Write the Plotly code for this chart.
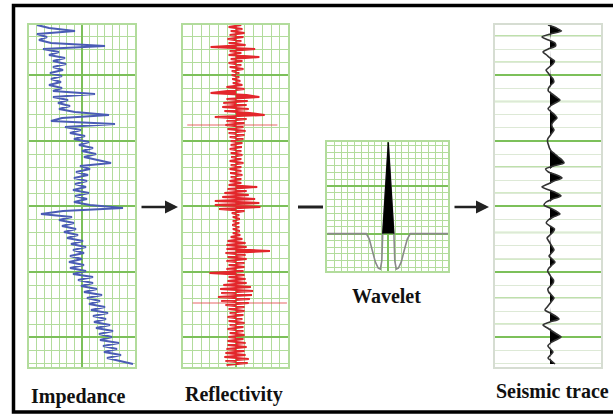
import numpy as np
import plotly.graph_objects as go

W, H = 613, 419

# ---------------- data ----------------
depth = np.arange(2, 344, 3)       # two-way time samples (ms), impedance / seismic
depth_r = np.arange(2, 344, 2)     # reflectivity samples (ms)

impedance = [8, 20, 46, 8, 18, 10, 22, 76, 14, 30,
             20, 36, 24, 37, 24, 34, 21, 33, 22, 32,
             20, 33, 24, 66, 24, 39, 29, 41, 30, 46,
             80, 33, 22, 86, 36, 52, 41, 56, 45, 60,
             50, 64, 53, 67, 55, 69, 82, 51, 61, 47,
             59, 45, 58, 46, 57, 44, 60, 46, 58, 45,
             61, 94, 34, 12, 43, 30, 45, 33, 47, 35,
             49, 38, 54, 42, 57, 44, 55, 41, 53, 40,
             55, 41, 57, 44, 64, 49, 64, 52, 68, 55,
             73, 58, 71, 60, 76, 62, 79, 64, 77, 65,
             81, 67, 84, 70, 83, 71, 90, 74, 88, 75,
             92, 78, 91, 104]

reflectivity = [0.05, -0.07, 0.06, -0.05, 0.08, -0.06, 0.07, -0.08, 0.05, -0.07,
                0.09, -0.24, 0.18, -0.06, 0.05, -0.07, 0.22, -0.05, 0.06, -0.07,
                0.05, -0.06, 0.07, -0.04, 0.03, -0.04, 0.03, -0.035, 0.04, -0.03,
                0.06, -0.09, 0.08, -0.10, -0.24, 0.10, 0.22, -0.09, 0.11, -0.12,
                0.10, -0.13, 0.12, -0.11, 0.13, 0.27, -0.20, 0.10, -0.09, 0.08,
                -0.10, 0.07, -0.08, 0.09, -0.07, 0.08, -0.06, 0.07, -0.05, 0.06,
                -0.05, 0.055, -0.06, 0.05, -0.05, 0.06, -0.045, 0.05, -0.06, 0.07,
                -0.05, 0.05, -0.06, 0.05, -0.055, 0.06, -0.05, 0.05, -0.06, 0.05,
                -0.07, 0.20, -0.08, 0.10, -0.11, 0.12, -0.13, 0.18, -0.20, 0.22,
                -0.20, 0.23, -0.16, 0.08, -0.04, 0.03, -0.03, 0.035, -0.03, 0.03,
                -0.035, 0.03, -0.03, 0.035, -0.03, 0.04, -0.05, 0.06, -0.08, 0.09,
                -0.09, 0.10, -0.09, 0.32, -0.10, 0.09, -0.08, 0.10, -0.09, 0.08,
                -0.07, 0.08, -0.09, 0.07, -0.25, 0.08, -0.07, 0.09, -0.08, 0.10,
                -0.12, 0.14, -0.15, 0.16, -0.14, 0.15, -0.17, 0.13, -0.14, 0.12,
                -0.10, 0.08, -0.07, 0.08, -0.06, 0.07, -0.08, 0.06, -0.07, 0.08,
                -0.06, 0.07, -0.08, 0.07, -0.06, 0.08, -0.07, 0.07, -0.08, 0.09,
                -0.08, 0.10, -0.09, 0.08, -0.10, 0.09, -0.11, 0.12, -0.10, 0.11,
                -0.09]

# long faint reflectivity spikes: depth, left, right
refl_spike_depth = [102, 280]
refl_spike_left = [-0.46, -0.41]
refl_spike_right = [0.39, 0.48]

wavelet_t = [-61, -22, -19, -16, -13, -10, -8, -6.5, -5.6, 0, 5.6, 6.5, 8, 10, 13, 16, 19, 22, 60]
wavelet_a = [0, 0, -0.06, -0.18, -0.31, -0.38, -0.39, -0.30, 0, 1.0, 0, -0.30, -0.39, -0.38, -0.31, -0.18, -0.06, 0, 0]

seismic = [-0.2, 0.64, 1.15, 0.06, -0.8, -0.16, 0.49, 0.55, -0.18, -0.7,
           -0.34, 0.02, 0.45, 0.28, -0.06, -0.4, -0.18, 0.04, 0.3, 0.38,
           0.09, -0.14, -0.17, 0.22, 0.61, 1.0, 0.51, 0.03, -0.19, 0.14,
           0.48, 0.7, 0.4, 0.18, 0.22, 0.4, 0.19, -0.02, -0.23, -0.24,
           -0.15, -0.06, 0.12, 0.47, 0.82, 1.2, 1.4, 0.35, -0.44, -0.16,
           0.66, 1.2, 0.4, -0.2, -0.8, -0.09, 0.63, 1.1, 0.26, -0.38,
           -0.6, 0.0, 0.6, 1.0, 0.33, -0.17, -0.38, 0.0, 0.45, 0.3,
           0.0, -0.3, -0.13, 0.05, 0.23, 0.4, 0.15, -0.1, 0.2, 0.5,
           0.2, -0.1, -0.24, -0.07, 0.11, 0.35, 0.31, 0.05, -0.21, -0.13,
           0.14, 0.4, 0.18, -0.05, -0.28, -0.5, 0.03, 0.55, 0.9, -0.01,
           -0.7, -0.25, 0.2, 0.65, 1.1, 0.58, 0.05, -0.21, 0.04, 0.3,
           0.05, -0.2, 0.15, 0.5]

labels = ["Impedance", "Reflectivity", "Wavelet", "Seismic trace"]

# ---------------- helpers ----------------
def px(x):
    return x / W

def py(y):
    return 1 - y / H

MAJ = "#7cc05a"
MIN = "#b2dc9c"
SERIF = "Liberation Serif, Times New Roman, DejaVu Serif, serif"

fig = go.Figure()

# impedance
fig.add_trace(go.Scatter(x=impedance, y=depth, mode="lines",
                         line=dict(color="#4a5cb5", width=2.2),
                         xaxis="x", yaxis="y", hoverinfo="skip"))
# reflectivity
sx, sy = [], []
for d, l, r in zip(refl_spike_depth, refl_spike_left, refl_spike_right):
    sx += [l, r, None]
    sy += [d, d, None]
fig.add_trace(go.Scatter(x=sx, y=sy, mode="lines",
                         line=dict(color="rgba(225,70,70,0.55)", width=1.5),
                         xaxis="x2", yaxis="y2", hoverinfo="skip"))
fig.add_trace(go.Scatter(x=reflectivity, y=depth_r, mode="lines",
                         fill="tozerox", fillcolor="#e3262b",
                         line=dict(color="#e3262b", width=2),
                         xaxis="x2", yaxis="y2", hoverinfo="skip"))
# wavelet
fig.add_trace(go.Scatter(x=wavelet_t, y=wavelet_a, mode="lines",
                         line=dict(color="#8a8a8a", width=1.6),
                         xaxis="x3", yaxis="y3", hoverinfo="skip"))
spk = [(t, a) for t, a in zip(wavelet_t, wavelet_a) if a >= 0 and abs(t) < 8]
fig.add_trace(go.Scatter(x=[p[0] for p in spk], y=[p[1] for p in spk], mode="lines",
                         fill="toself", fillcolor="black",
                         line=dict(color="black", width=1),
                         xaxis="x3", yaxis="y3", hoverinfo="skip"))
# seismic
seis_pos = np.clip(np.array(seismic), 0, None)
fig.add_trace(go.Scatter(x=seis_pos, y=depth, mode="lines", fill="tozerox",
                         fillcolor="black", line=dict(color="black", width=0),
                         xaxis="x4", yaxis="y4", hoverinfo="skip"))
fig.add_trace(go.Scatter(x=seismic, y=depth, mode="lines",
                         line=dict(color="#333333", width=1.6, shape="spline", smoothing=0.7),
                         xaxis="x4", yaxis="y4", hoverinfo="skip"))


def ax(domain, rng, anchor, maj_t0, maj_dt, min_t0, min_dt, grid=True,
       maj_col=MAJ, min_col=MIN, line_col=MIN):
    return dict(domain=domain, range=rng, anchor=anchor,
                showticklabels=False, ticks="", zeroline=False,
                showgrid=grid, gridcolor=maj_col, gridwidth=2,
                tick0=maj_t0, dtick=maj_dt,
                minor=dict(showgrid=grid, gridcolor=min_col, gridwidth=1,
                           tick0=min_t0, dtick=min_dt, ticks=""),
                showline=True, mirror=True, linecolor=line_col, linewidth=1.5,
                fixedrange=True)

ydom_long = [py(367), py(24.5)]
drange = [344, 1.5]

layout = dict(
    width=W, height=H, margin=dict(l=0, r=0, t=0, b=0),
    paper_bgcolor="white", plot_bgcolor="rgba(0,0,0,0)", showlegend=False,
    xaxis=ax([px(29), px(135)], [0, 106], "y", 53, 1000, 0, 106 / 14),
    yaxis=ax(ydom_long, drange, "x", 52.4, 65.5, 52.4, 13.1),
    xaxis2=ax([px(183), px(288)], [-0.5, 0.49], "y2", 0, 10, 0, 0.0825),
    yaxis2=ax(ydom_long, drange, "x2", 52.4, 65.5, 52.4, 13.1),
    xaxis3=ax([px(327.3), px(448.3)], [-61, 60], "y3", 0, 1000, 0, 6.72),
    yaxis3=ax([py(271), py(142.3)], [-0.41, 1.0], "x3", 0, 0.52, 0, 0.0743),
    xaxis4=ax([px(495), px(601)], [-5.5, 5.1], "y4", 0, 1000, 0, 1000, grid=False,
              line_col="#d6ddd2"),
    yaxis4=ax(ydom_long, drange, "x4", 52.4, 65.5, 52.4, 13.1,
              maj_col="#7cc05a", min_col="#dde9d6", line_col="#d6ddd2"),
)
fig.update_layout(**layout)

shapes = []
# medium-weight lines of the seismic panel
for k in [1, 3, 6, 11, 13, 16, 18, 21, 23]:
    shapes.append(dict(type="line", xref="x4 domain", yref="y4", x0=0, x1=1,
                       y0=k * 13.1, y1=k * 13.1, layer="below",
                       line=dict(color="#a9d68f", width=1.5)))
# frame (left, top, bottom; right side runs off the picture)
shapes.append(dict(type="rect", xref="paper", yref="paper",
                   x0=px(13.5), x1=1.3, y0=py(412), y1=py(5.5),
                   line=dict(color="black", width=3.5)))
# connector between reflectivity and wavelet
shapes.append(dict(type="line", xref="paper", yref="paper",
                   x0=px(298), x1=px(323), y0=py(207), y1=py(207),
                   line=dict(color="#222", width=3)))
fig.update_layout(shapes=shapes)

annotations = []
for x0, x1 in [(140, 178), (453, 489)]:
    annotations.append(dict(x=px(x1), y=py(207), ax=-(x1 - x0), ay=0,
                            xref="paper", yref="paper", axref="pixel", ayref="pixel",
                            text="", showarrow=True, arrowhead=2, arrowsize=1,
                            arrowwidth=2.6, arrowcolor="#222"))
for text, x, y in zip(labels, [78, 234, 386, 552.5], [396, 394, 295.5, 391]):
    annotations.append(dict(x=px(x), y=py(y), xref="paper", yref="paper",
                            text="<b>" + text + "</b>", showarrow=False,
                            xanchor="center", yanchor="middle",
                            font=dict(family=SERIF, size=20, color="#111")))
fig.update_layout(annotations=annotations)

fig.write_html("out.html")
